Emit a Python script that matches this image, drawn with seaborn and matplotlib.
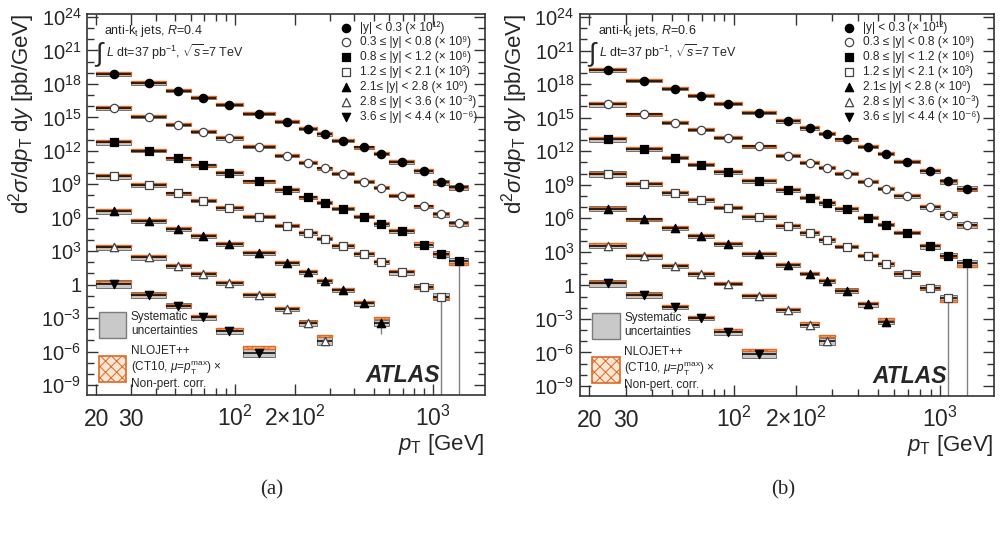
import numpy as np
import seaborn as sns
import matplotlib.pyplot as plt
from matplotlib.patches import Patch
from matplotlib.ticker import FixedLocator, FixedFormatter, NullFormatter

# jet pT bins [GeV]
bin_edges = [20, 30, 45, 60, 80, 110, 160, 210, 260, 310, 400, 500, 600, 800, 1000, 1200, 1500]

rap_labels = [
    "|y| < 0.3 (× 10¹²)",
    "0.3 ≤ |y| < 0.8 (× 10⁹)",
    "0.8 ≤ |y| < 1.2 (× 10⁶)",
    "1.2 ≤ |y| < 2.1 (× 10³)",
    "2.1≤ |y| < 2.8 (× 10⁰)",
    "2.8 ≤ |y| < 3.6 (× 10⁻³)",
    "3.6 ≤ |y| < 4.4 (× 10⁻⁶)",
]
markers = ["o", "o", "s", "s", "^", "^", "v"]
filled = [True, False, True, False, True, False, True]

# log10 of the plotted cross section (legend factor included), R = 0.4
a_y1 = [18.87, 18.06, 17.37, 16.78, 16.12, 15.34, 14.57, 14.00, 13.49, 12.90, 12.30, 11.70, 10.99, 10.18, 9.16, 8.72]
a_y2 = [15.82, 15.04, 14.33, 13.73, 13.13, 12.36, 11.55, 10.93, 10.42, 9.91, 9.22, 8.66, 7.97, 7.01, 6.30, 5.49]
a_y3 = [12.75, 12.00, 11.31, 10.69, 10.00, 9.25, 8.48, 7.82, 7.34, 6.78, 6.09, 5.43, 4.78, 3.55, 2.75, 2.09]
a_y4 = [9.70, 8.93, 8.18, 7.52, 6.87, 6.09, 5.28, 4.60, 4.12, 3.46, 2.75, 2.00, 1.10, -0.18, -1.07]
a_y5 = [6.57, 5.73, 4.99, 4.36, 3.64, 2.81, 1.91, 1.10, 0.36, -0.48, -1.67, -3.46]
a_y6 = [3.34, 2.45, 1.64, 0.96, 0.12, -0.90, -2.18, -3.46, -5.07]
a_y7 = [0.06, -0.93, -1.88, -2.93, -4.18, -6.12]

# same for R = 0.6
b_y1 = [19.25, 18.29, 17.56, 16.93, 16.21, 15.43, 14.68, 14.05, 13.56, 13.05, 12.36, 11.76, 11.04, 10.20, 9.29, 8.66]
b_y2 = [16.18, 15.28, 14.53, 13.89, 13.20, 12.42, 11.61, 10.98, 10.53, 9.95, 9.26, 8.63, 7.97, 7.01, 6.32, 5.41]
b_y3 = [13.08, 12.18, 11.43, 10.77, 10.11, 9.32, 8.51, 7.85, 7.34, 6.80, 6.05, 5.44, 4.72, 3.49, 2.65, 1.98]
b_y4 = [9.98, 9.05, 8.27, 7.64, 6.95, 6.11, 5.29, 4.66, 4.06, 3.46, 2.65, 1.89, 1.05, -0.21, -1.17]
b_y5 = [6.86, 5.89, 5.11, 4.39, 3.70, 2.80, 1.83, 1.05, 0.36, -0.48, -1.71, -3.28]
b_y6 = [3.55, 2.59, 1.74, 0.99, 0.15, -0.96, -2.23, -3.52, -5.02]
b_y7 = [0.18, -0.87, -1.92, -2.92, -4.18, -6.17]

# systematic uncertainty (half height, decades)
a_sys = [
    [.18, .14, .12, .12, .12, .12, .12, .12, .12, .12, .12, .12, .14, .16, .20, .22],
    [.20, .14, .12, .12, .12, .12, .12, .12, .12, .12, .12, .12, .14, .16, .20, .24],
    [.22, .15, .13, .13, .13, .13, .13, .13, .13, .13, .13, .13, .15, .20, .24, .30],
    [.25, .18, .15, .15, .15, .15, .15, .15, .15, .15, .15, .18, .20, .24, .30],
    [.22, .16, .15, .15, .15, .15, .15, .16, .18, .20, .22, .25],
    [.25, .20, .16, .16, .16, .18, .20, .25, .35],
    [.35, .25, .20, .20, .25, .35],
]
b_sys = [
    [.18, .14, .12, .12, .12, .12, .12, .12, .12, .12, .12, .12, .14, .16, .20, .22],
    [.20, .14, .12, .12, .12, .12, .12, .12, .12, .12, .12, .12, .14, .16, .20, .24],
    [.22, .15, .13, .13, .13, .13, .13, .13, .13, .13, .13, .13, .15, .20, .24, .30],
    [.25, .18, .15, .15, .15, .15, .15, .15, .15, .15, .15, .18, .20, .24, .30],
    [.22, .16, .15, .15, .15, .15, .15, .16, .18, .20, .22, .22],
    [.25, .20, .16, .16, .16, .18, .20, .25, .30],
    [.30, .25, .20, .20, .22, .30],
]
# NLOJET++ prediction relative to data (decades)
a_nlo = [
    [.10, .08, .08, .08, .08, .08, .08, .08, .08, .08, .08, .08, .08, .10, .05, .00],
    [.10, .08, .08, .08, .08, .08, .08, .08, .08, .08, .08, .08, .08, .08, .05, .00],
    [.10, .08, .08, .08, .08, .08, .08, .08, .08, .08, .08, .08, .08, .18, .00, -.20],
    [.10, .08, .08, .08, .08, .08, .08, .08, .08, .08, .08, .08, .08, .00, -.15],
    [.10, .08, .08, .08, .08, .08, .08, .08, .08, .08, .10, .50],
    [.15, .10, .08, .08, .08, .08, .10, .15, .45],
    [.15, .10, .08, .12, .22, .48],
]
b_nlo = [
    [.10, .08, .08, .08, .08, .08, .08, .08, .08, .08, .08, .08, .08, .10, .05, .00],
    [.10, .08, .08, .08, .08, .08, .08, .08, .08, .08, .08, .08, .08, .08, .05, .00],
    [.10, .08, .08, .08, .08, .08, .08, .08, .08, .08, .08, .08, .08, .15, .00, -.25],
    [.10, .08, .08, .08, .08, .08, .08, .08, .08, .08, .08, .08, .08, .00, -.20],
    [.10, .08, .08, .08, .08, .08, .08, .08, .08, .08, .10, .30],
    [.15, .10, .08, .08, .08, .08, .10, .15, .45],
    [.15, .10, .08, .10, .20, .40],
]
# long statistical error bars: (series, bin, decades below point)
a_stat = [(2, 15, 30), (3, 14, 30), (4, 11, 1.0)]
b_stat = [(2, 15, 30), (3, 14, 30)]

orange = "#dc6a24"

sns.set_theme(style="ticks")
plt.rcParams["font.family"] = ["Liberation Sans", "DejaVu Sans"]
plt.rcParams["mathtext.fontset"] = "custom"
plt.rcParams["mathtext.rm"] = "Liberation Sans"
plt.rcParams["mathtext.it"] = "Liberation Sans:italic"
plt.rcParams["mathtext.bf"] = "Liberation Sans:bold"
plt.rcParams["hatch.linewidth"] = 0.7


def draw_panel(ax, series, sys, nlo, stat, rlabel, ylab_x):
    ax.set_xscale("log")
    ax.set_yscale("log")
    edges = np.array(bin_edges, dtype=float)
    for i, vals in enumerate(series):
        n = len(vals)
        lo, hi = edges[:n], edges[1:n + 1]
        ctr = np.sqrt(lo * hi)
        lv = np.array(vals)
        s = np.array(sys[i])
        t = lv + np.array(nlo[i])
        ax.bar(lo, 10**(lv + s) - 10**(lv - s), bottom=10**(lv - s), width=hi - lo,
               align="edge", color="#c9c9c9", edgecolor="#6f6f6f", linewidth=0.7, zorder=2)
        ax.bar(lo, 10**(t + 0.09) - 10**(t - 0.09), bottom=10**(t - 0.09), width=hi - lo,
               align="edge", facecolor="#efb58a", edgecolor=orange, hatch="xx",
               linewidth=1.0, zorder=3)
        ax.hlines(10**lv, lo, hi, color="black", lw=1.1, zorder=4)
        for (si, bi, d) in stat:
            if si == i:
                ax.vlines(ctr[bi], 10**(lv[bi] - d), 10**lv[bi], color="#808080", lw=1.0, zorder=1)
        sns.scatterplot(x=ctr, y=10**lv, ax=ax, marker=markers[i], s=36,
                        facecolor="black" if filled[i] else "white",
                        edgecolor="black" if filled[i] else "#444444",
                        linewidth=0.9, zorder=6, label=rap_labels[i])

    ax.set_xlim(18, 1820)
    ax.set_ylim(10**-9.9, 10**24.27)

    ymaj = [10.0**e for e in range(-9, 25, 3)]
    ylab = ["1" if e == 0 else f"$10^{{{e}}}$" for e in range(-9, 25, 3)]
    ax.yaxis.set_major_locator(FixedLocator(ymaj))
    ax.yaxis.set_major_formatter(FixedFormatter(ylab))
    ax.yaxis.set_minor_locator(FixedLocator([10.0**e for e in range(-10, 25)]))
    ax.yaxis.set_minor_formatter(NullFormatter())
    ax.xaxis.set_major_locator(FixedLocator([20, 30, 100, 200, 1000]))
    ax.xaxis.set_major_formatter(FixedFormatter(["20", "30", "$10^2$", r"$2{\times}10^2$", "$10^3$"]))
    ax.xaxis.set_minor_locator(FixedLocator([40, 50, 60, 70, 80, 90, 300, 400, 500, 600, 700, 800, 900]))
    ax.xaxis.set_minor_formatter(NullFormatter())

    ax.tick_params(which="both", direction="in", top=True, right=True, width=1.0, color="#333333")
    ax.tick_params(which="major", length=8)
    ax.tick_params(which="minor", length=5)
    ax.tick_params(axis="y", labelsize=14.5, pad=4)
    ax.tick_params(axis="x", labelsize=16.5, pad=22)
    plt.setp(ax.get_xticklabels(), va="baseline")
    for sp in ax.spines.values():
        sp.set_linewidth(1.2)
        sp.set_color("#333333")

    ax.set_xlabel(r"$p_{\rm T}$ [GeV]", fontsize=16, loc="right")
    ax.xaxis.set_label_coords(1.0, -0.098)
    ax.set_ylabel(r"d$^2\sigma$/d$p_{\rm T}$ d$y$ [pb/GeV]", fontsize=16, loc="top")
    ax.yaxis.set_label_coords(ylab_x, 1.0)

    handles, labels = ax.get_legend_handles_labels()
    leg1 = ax.legend(handles, labels, loc="upper left", bbox_to_anchor=(0.635, 0.982),
                     frameon=False, fontsize=8.6, handlelength=1.0, handletextpad=0.7,
                     labelspacing=0.22, borderpad=0, borderaxespad=0)
    ax.add_artist(leg1)
    box_handles = [
        Patch(facecolor="#c9c9c9", edgecolor="#7c7c7c", linewidth=1.0),
        Patch(facecolor="#fbe6d6", edgecolor=orange, hatch="xxx", linewidth=1.2),
    ]
    ax.legend(box_handles, ["Systematic\nuncertainties",
                            "NLOJET++\n(CT10, $\\mu$=$p_{\\rm T}^{\\rm max}$) $\\times$\nNon-pert. corr."],
              loc="lower left", bbox_to_anchor=(0.03, 0.012), frameon=False, fontsize=8.5,
              handlelength=2.3, handleheight=3.0, handletextpad=0.4, labelspacing=0.6,
              borderpad=0, borderaxespad=0)

    ax.text(0.043, 0.955, "anti-k$_{\\rm t}$ jets, $R$=" + rlabel, transform=ax.transAxes,
            fontsize=9, va="center", ha="left")
    ax.text(0.018, 0.893, r"$\int$", transform=ax.transAxes, fontsize=19, va="center", ha="left")
    ax.text(0.047, 0.900, r"$L$ dt=37 pb$^{-1}$, $\sqrt{s}$=7 TeV", transform=ax.transAxes,
            fontsize=9, va="center", ha="left")
    ax.text(0.887, 0.034, "ATLAS", transform=ax.transAxes, fontsize=16.5,
            fontweight="bold", fontstyle="italic", ha="right", va="baseline")


fig = plt.figure(figsize=(10.06, 5.34), dpi=100)
ax_a = fig.add_axes([0.0865, 0.2603, 0.3956, 0.7135])
ax_b = fig.add_axes([0.5765, 0.2584, 0.4115, 0.7154])

draw_panel(ax_a, [a_y1, a_y2, a_y3, a_y4, a_y5, a_y6, a_y7], a_sys, a_nlo, a_stat, "0.4", -0.126)
draw_panel(ax_b, [b_y1, b_y2, b_y3, b_y4, b_y5, b_y6, b_y7], b_sys, b_nlo, b_stat, "0.6", -0.121)

fig.text(272 / 1006, 1 - 490 / 534, "(a)", fontsize=15, family="Liberation Serif", ha="center", va="center")
fig.text(783 / 1006, 1 - 490 / 534, "(b)", fontsize=15, family="Liberation Serif", ha="center", va="center")

fig.savefig("out.png", dpi=100)
